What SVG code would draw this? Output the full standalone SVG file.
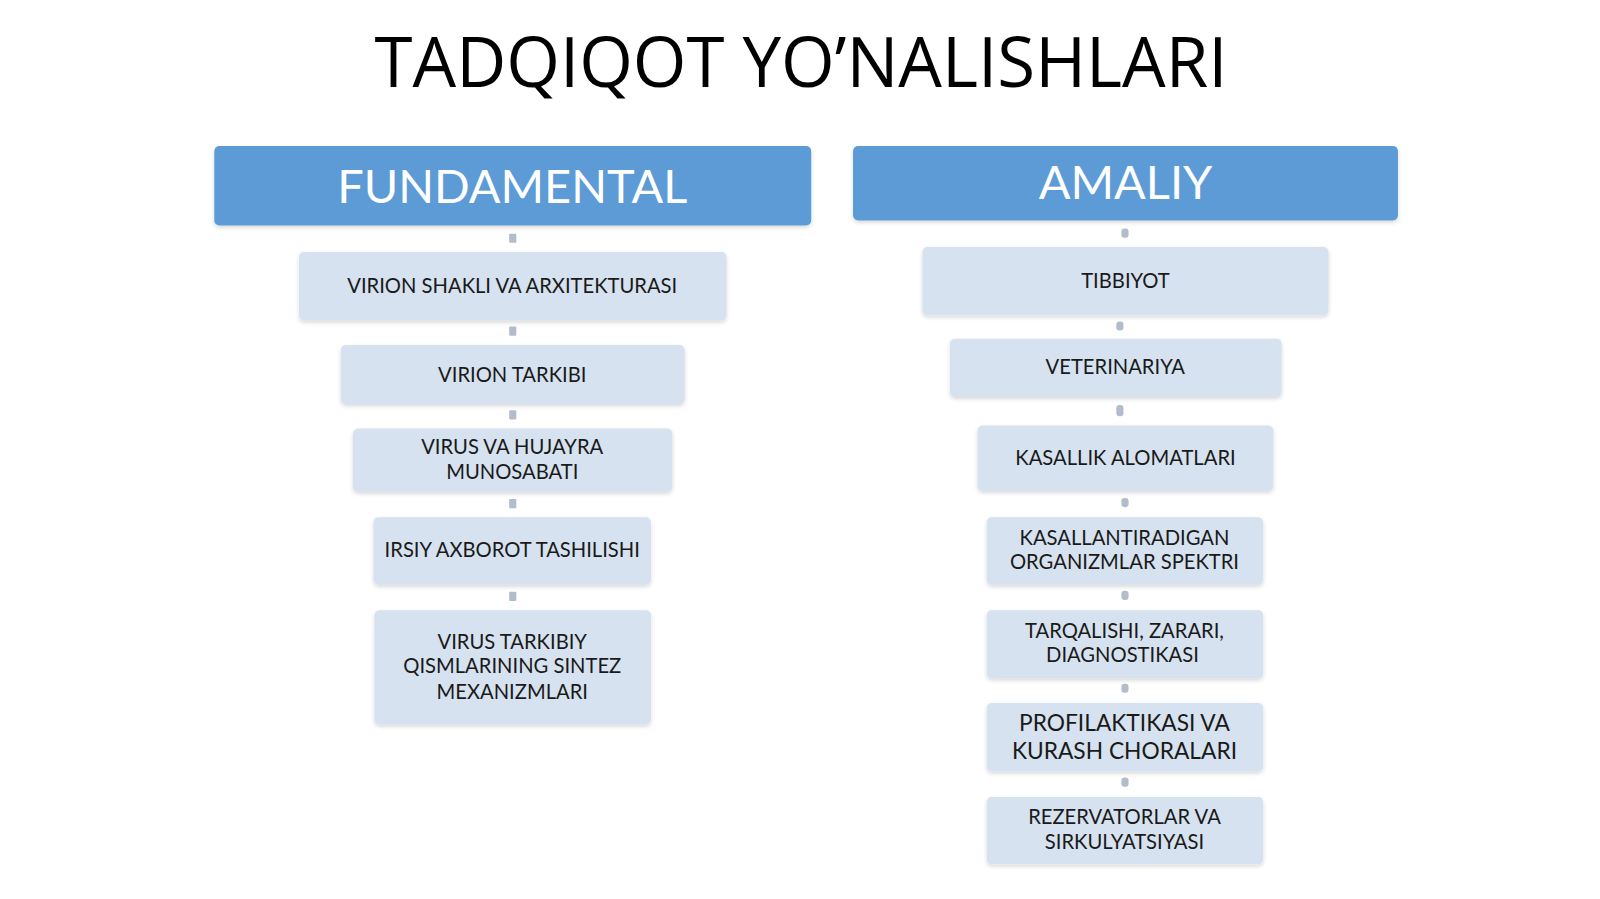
<svg xmlns="http://www.w3.org/2000/svg" width="1600" height="899" viewBox="0 0 1600 899">
<defs>
<filter id="sh" x="-5%" y="-10%" width="110%" height="130%">
<feGaussianBlur in="SourceAlpha" stdDeviation="2"/>
<feOffset dx="0" dy="2" result="b"/>
<feComponentTransfer><feFuncA type="linear" slope="0.16"/></feComponentTransfer>
<feMerge><feMergeNode/><feMergeNode in="SourceGraphic"/></feMerge>
</filter>
</defs>
<style>
.hdr{fill:#5b9bd5;filter:url(#sh)}
.hdrt{fill:#ffffff;font-family:Lato,"Liberation Sans",sans-serif;font-size:46px;text-anchor:middle}
.box{fill:#d6e2ef;filter:url(#sh)}
.bt{fill:#1a1a1a;font-family:Lato,"Liberation Sans",sans-serif;font-size:19.8px;text-anchor:middle}
.bt2{fill:#1a1a1a;font-family:Lato,"Liberation Sans",sans-serif;font-size:22.3px;text-anchor:middle}
.con{fill:#b3bccb}
.title{fill:#000000;font-family:"Open Sans","Noto Sans",sans-serif;font-size:69px;text-anchor:middle}
</style>
<rect width="1600" height="899" fill="#ffffff"/>
<g transform="scale(1.0204)">
<text class="title" x="785" y="85" textLength="836" lengthAdjust="spacingAndGlyphs">TADQIQOT YO’NALISHLARI</text>

<g id="connectors">
<rect class="con" x="499" y="229" width="7" height="9" rx="1"/>
<rect class="con" x="499" y="320" width="7" height="9" rx="1"/>
<rect class="con" x="499" y="402" width="7" height="9" rx="1"/>
<rect class="con" x="499" y="489" width="7" height="9" rx="1"/>
<rect class="con" x="499" y="580" width="7" height="9" rx="1"/>
<rect class="con" x="1099" y="224" width="7" height="9" rx="3"/>
<rect class="con" x="1094" y="315" width="7" height="9" rx="3"/>
<rect class="con" x="1094" y="397" width="7" height="11" rx="3"/>
<rect class="con" x="1099" y="488" width="7" height="9" rx="3"/>
<rect class="con" x="1099" y="579" width="7" height="9" rx="3"/>
<rect class="con" x="1099" y="670" width="7" height="9" rx="3"/>
<rect class="con" x="1099" y="762" width="7" height="9" rx="3"/>
</g>

<g id="fundamental">
<rect class="hdr" x="210" y="143" width="585" height="78" rx="5"/>
<text class="hdrt" x="502" y="199">FUNDAMENTAL</text>
</g>
<g id="amaliy">
<rect class="hdr" x="836" y="143" width="534" height="73" rx="5"/>
<text class="hdrt" x="1103" y="195">AMALIY</text>
</g>

<g id="f1"><rect class="box" x="293" y="247" width="419" height="67" rx="5"/><text class="bt" x="502" y="287">VIRION SHAKLI VA ARXITEKTURASI</text></g>
<g id="f2"><rect class="box" x="334" y="338" width="337" height="58" rx="5"/><text class="bt" x="502" y="374">VIRION TARKIBI</text></g>
<g id="f3"><rect class="box" x="346" y="420" width="313" height="62" rx="5"/><text class="bt" x="502" y="445">VIRUS VA HUJAYRA</text><text class="bt" x="502" y="469">MUNOSABATI</text></g>
<g id="f4"><rect class="box" x="366" y="507" width="272" height="66" rx="5"/><text class="bt" x="502" y="546">IRSIY AXBOROT TASHILISHI</text></g>
<g id="f5"><rect class="box" x="367" y="598" width="271" height="112" rx="5"/><text class="bt" x="502" y="636">VIRUS TARKIBIY</text><text class="bt" x="502" y="660">QISMLARINING SINTEZ</text><text class="bt" x="502" y="685">MEXANIZMLARI</text></g>

<g id="a1"><rect class="box" x="904" y="242" width="398" height="67" rx="5"/><text class="bt" x="1103" y="282">TIBBIYOT</text></g>
<g id="a2"><rect class="box" x="931" y="332" width="325" height="57" rx="5"/><text class="bt" x="1093" y="367">VETERINARIYA</text></g>
<g id="a3"><rect class="box" x="958" y="417" width="290" height="64" rx="5"/><text class="bt" x="1103" y="456">KASALLIK ALOMATLARI</text></g>
<g id="a4"><rect class="box" x="967" y="507" width="271" height="66" rx="5"/><text class="bt" x="1102" y="534">KASALLANTIRADIGAN</text><text class="bt" x="1102" y="558">ORGANIZMLAR SPEKTRI</text></g>
<g id="a5"><rect class="box" x="967" y="598" width="271" height="67" rx="5"/><text class="bt" x="1102" y="625">TARQALISHI, ZARARI,</text><text class="bt" x="1100" y="649">DIAGNOSTIKASI</text></g>
<g id="a6"><rect class="box" x="967" y="689" width="271" height="67" rx="5"/><text class="bt2" x="1102" y="716">PROFILAKTIKASI VA</text><text class="bt2" x="1102" y="744">KURASH CHORALARI</text></g>
<g id="a7"><rect class="box" x="967" y="781" width="271" height="66" rx="5"/><text class="bt" x="1102" y="808">REZERVATORLAR VA</text><text class="bt" x="1102" y="832">SIRKULYATSIYASI</text></g>
</g>
</svg>
